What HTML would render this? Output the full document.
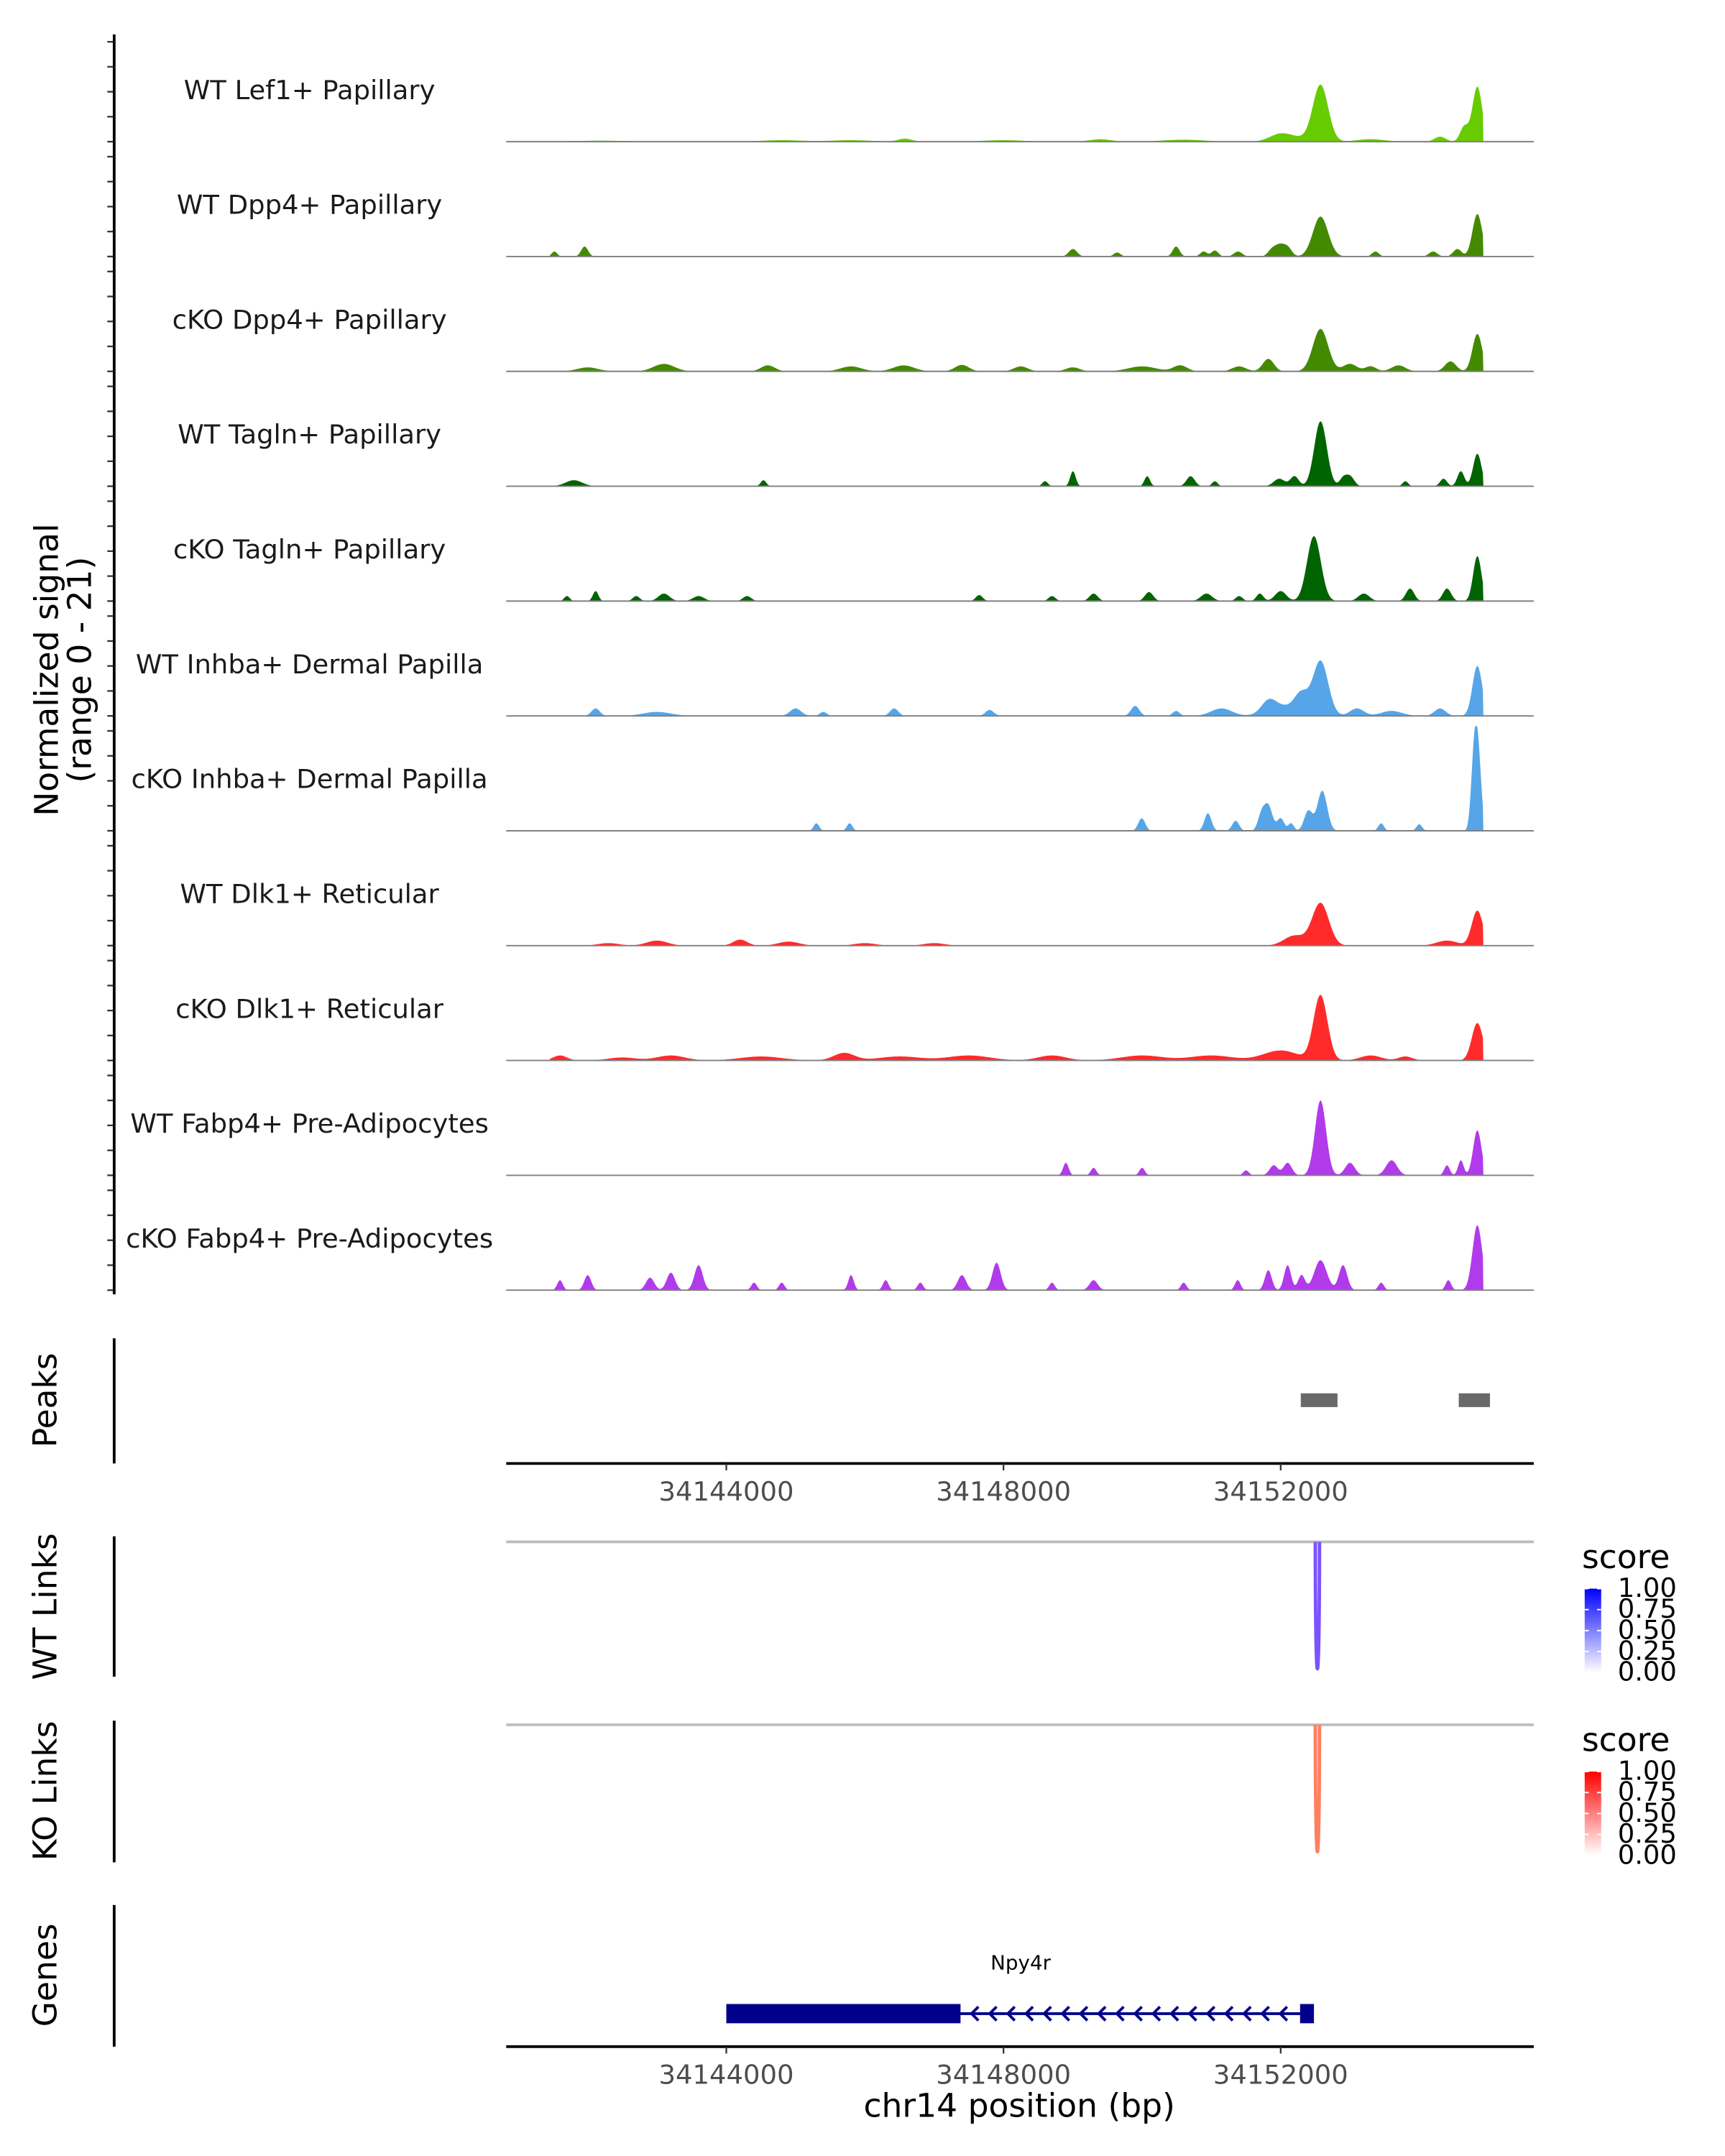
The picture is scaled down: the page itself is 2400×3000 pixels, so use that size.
<!DOCTYPE html>
<html><head><meta charset="utf-8">
<style>
html,body{margin:0;padding:0;background:#fff;}
svg{display:block;}
text{font-family:"DejaVu Sans","Liberation Sans",sans-serif;}
</style></head>
<body>
<svg id="chart" width="2400" height="3000" viewBox="0 0 1254 1567.5" xmlns="http://www.w3.org/2000/svg">
<rect x="0" y="0" width="1254" height="1567.5" fill="#fff"/>
<g id="tracks"></g>
<g id="static"></g>
</svg>
<script>
// ---- data ----
const trackNames = ["WT Lef1+ Papillary","WT Dpp4+ Papillary","cKO Dpp4+ Papillary","WT Tagln+ Papillary","cKO Tagln+ Papillary","WT Inhba+ Dermal Papilla","cKO Inhba+ Dermal Papilla","WT Dlk1+ Reticular","cKO Dlk1+ Reticular","WT Fabp4+ Pre-Adipocytes","cKO Fabp4+ Pre-Adipocytes"];
const trackColors = ["#66CC00","#448A00","#448A00","#006400","#006400","#56A5E8","#56A5E8","#FF2A2A","#FF2A2A","#B13AEB","#B13AEB"];
// peaks per track: [position bp, signal height, width bp]
const peaksLef1 = [[34152575,11.3,110],[34154838,11,70],[34154650,3,60],[34154300,1,80],[34151980,1.2,150],[34152200,0.8,200],[34146580,0.6,100],[34149399,0.5,150],[34150600,0.4,300],[34153300,0.5,200],[34148000,0.3,300],[34144800,0.3,300],[34142200,0.2,400],[34145800,0.3,300]];
const peaksDpp4WT = [[34152575,8,110],[34154838,8.5,70],[34141955,2,50],[34141519,1,40],[34149002,1.5,60],[34150491,2,50],[34151880,1.5,60],[34151990,2,60],[34152100,1.8,60],[34151384,1,60],[34150888,1,50],[34153367,1,50],[34154200,1,60],[34154550,1.5,60],[34151050,1.2,50],[34149640,0.8,50]];
const peaksDpp4KO = [[34152575,8.5,110],[34154838,7.5,70],[34151821,2.5,80],[34154450,2,80],[34143100,1.5,150],[34144600,1.2,100],[34146560,1.2,150],[34147400,1.3,100],[34148250,1,100],[34150000,1,200],[34150550,1.2,100],[34151400,1,100],[34153000,1.5,100],[34153700,1.2,100],[34145800,1,150],[34142000,0.8,150],[34149000,0.8,100],[34153300,1,80]];
const peaksTaglnWT = [[34152575,13,90],[34154838,6.5,60],[34154600,3,50],[34154350,1.5,50],[34141800,1.2,120],[34144536,1.2,40],[34149002,3,40],[34148600,1,40],[34150074,2,40],[34150700,2,60],[34151050,1,40],[34151980,1.5,80],[34152200,2,60],[34153000,2,60],[34153800,1,40],[34152900,1.5,50]];
const peaksTaglnKO = [[34152480,13,100],[34154838,9,60],[34154400,2.5,60],[34142114,2,40],[34141700,1,40],[34143100,1.5,80],[34143600,1,80],[34144300,1,60],[34147650,1.2,50],[34148700,1,50],[34149300,1.5,60],[34150100,1.8,60],[34150930,1.5,80],[34151700,1.5,50],[34152000,2,80],[34153200,1.5,80],[34153867,2.5,60],[34151400,1,50],[34142700,1,50]];
const peaksInhbaWT = [[34152575,11,110],[34154838,10,70],[34152300,4,100],[34151821,2,100],[34153100,1.5,100],[34153600,1,150],[34154300,1.5,80],[34142114,1.5,60],[34145000,1.5,80],[34146422,1.5,60],[34147800,1.2,60],[34149900,2,60],[34150491,1,50],[34151146,1.5,150],[34152000,2,200],[34143000,0.8,200],[34145400,0.8,50]];
const peaksInhbaKO = [[34154838,18,50],[34154780,8,40],[34152600,8,70],[34152400,4,60],[34151821,5,60],[34151720,3,50],[34151350,2,50],[34150950,3.5,50],[34149995,2.5,50],[34152000,2.5,50],[34145300,1.5,40],[34145780,1.5,40],[34153450,1.5,40],[34154000,1.3,40],[34152150,1.5,40]];
const peaksDlk1WT = [[34152575,8.5,120],[34154838,7,80],[34152200,2,150],[34154400,1,150],[34143000,1,150],[34144200,1.2,100],[34144900,0.8,150],[34146000,0.5,150],[34147000,0.5,150],[34142300,0.5,150]];
const peaksDlk1KO = [[34152575,13,100],[34154838,7.5,80],[34152000,2,250],[34153300,1,150],[34141600,1,100],[34143200,1,200],[34145700,1.5,150],[34147500,1,300],[34148700,1,200],[34150000,1,300],[34151000,1,300],[34144500,0.8,300],[34146500,0.8,300],[34142500,0.6,200],[34153800,0.8,100]];
const peaksFabp4WT = [[34152575,15,80],[34154838,9,60],[34154600,3,40],[34154400,2,40],[34152100,2.5,60],[34151900,2,60],[34153600,3,80],[34153000,2.5,70],[34148900,2.5,40],[34149300,1.5,40],[34150000,1.5,40],[34151500,1,40]];
const peaksFabp4KO = [[34154838,13,70],[34152575,6,90],[34152900,5,60],[34152100,5,50],[34151821,4,50],[34151380,2,40],[34142000,3,50],[34143200,3.5,60],[34143600,5,60],[34142900,2.5,60],[34147900,5.5,60],[34147400,3,60],[34145800,3,40],[34146300,2,40],[34144400,1.5,40],[34150600,1.5,40],[34149300,2,60],[34153450,1.5,40],[34154420,2,40],[34146800,1.5,40],[34144800,1.5,40],[34141600,2,40],[34148700,1.5,40],[34152300,3,50]];
const allPeaks = [peaksLef1,peaksDpp4WT,peaksDpp4KO,peaksTaglnWT,peaksTaglnKO,peaksInhbaWT,peaksInhbaKO,peaksDlk1WT,peaksDlk1KO,peaksFabp4WT,peaksFabp4KO];
const xTicks = [34144000,34148000,34152000];
const peakRegions = [[34152290,34152820],[34154570,34155020]];
const linkWT = [34152500,34152560,0.7];
const linkKO = [34152500,34152560,0.65];
const gene = {name:"Npy4r", start:34144000, cdsEnd:34147380, exon2Start:34152280, end:34152480};
const legendTicks = ["1.00","0.75","0.50","0.25","0.00"];

// ---- scales ----
const X0 = 368, X1 = 1115;
const bp0 = 34144000, pxPerBp = 201.5/4000, xRef = 528;
function xs(bp){ return xRef + (bp-bp0)*pxPerBp; }
const dataStart = 34141450, dataEnd = 34154925;
const trackTop0 = 103, trackPitch = 83.5, pxPerUnit = 3.63, yMax = 21;

const NS="http://www.w3.org/2000/svg";
function mk(tag, attrs, parent){ const e=document.createElementNS(NS,tag); for(const k in attrs) e.setAttribute(k,attrs[k]); (parent||document.getElementById('static')).appendChild(e); return e; }

const tracksG = document.getElementById('tracks');
allPeaks.forEach((peaks,i)=>{
  const base = trackTop0 + i*trackPitch;
  const g = mk('g',{},tracksG);
  
  
  let d = 'M'+xs(dataStart).toFixed(2)+','+base;
  for(let px=Math.ceil(xs(dataStart)); px<=xs(dataEnd); px+=0.5){
    const bp = bp0 + (px-xRef)/pxPerBp;
    let v=0;
    peaks.forEach(p=>{ const z=(bp-p[0])/p[2]; v += p[1]*Math.exp(-0.5*z*z); });
    v = Math.min(v,yMax);
    d += ' L'+px.toFixed(2)+','+(base - v*pxPerUnit).toFixed(2);
  }
  d += ' L'+xs(dataEnd).toFixed(2)+','+base+' Z';
  const a = mk('path',{d:d,fill:trackColors[i]},g);
  
  
  const bl = mk('line',{x1:X0,x2:X1,y1:base,y2:base,stroke:'#7f7f7f','stroke-width':1},g);
  
  
  const t = mk('text',{x:225,y:base-31,'font-size':19.3,'text-anchor':'middle',fill:'#1a1a1a'},g);
  t.textContent = trackNames[i];
  
  
  [0,5,10,15,20].forEach(v=>{
    const tk = mk('line',{x1:78,x2:83,y1:base-v*pxPerUnit,y2:base-v*pxPerUnit,stroke:'#333','stroke-width':1.2},g);
    
    
  });
});

// left axis lines
[[25,941],[973,1064],[1117,1219],[1251,1354],[1385,1488]].forEach(r=>{
  const l = mk('line',{x1:83,x2:83,y1:r[0],y2:r[1],stroke:'#000','stroke-width':2});
  
  
});
function vtext(txt,x,y,name,size){
  const t = mk('text',{x:x,y:y,'font-size':size||23.8,'text-anchor':'middle',fill:'#000',transform:'rotate(-90 '+x+' '+y+')'});
  t.textContent=txt;
  
  
  return t;
}
vtext('Normalized signal',42,487,'y-axis-title');
vtext('(range 0 - 21)',66,487,'y-axis-subtitle');
vtext('Peaks',41,1018,'peaks-title');
vtext('WT Links',41,1168,'wt-links-title');
vtext('KO Links',41,1302,'ko-links-title');
vtext('Genes',41,1436,'genes-title');

// peaks
peakRegions.forEach(p=>{
  const r = mk('rect',{x:xs(p[0]),y:1013,width:xs(p[1])-xs(p[0]),height:10,fill:'#696969'});
  
  
});
// x axes
function xAxis(y,name){
  const l = mk('line',{x1:X0,x2:X1,y1:y,y2:y,stroke:'#000','stroke-width':2});
  
  
  xTicks.forEach(v=>{
    const tk = mk('line',{x1:xs(v),x2:xs(v),y1:y,y2:y+5,stroke:'#333','stroke-width':1.2});
    
    
    const t = mk('text',{x:xs(v),y:y+27,'font-size':19.3,'text-anchor':'middle',fill:'#4d4d4d'});
    t.textContent=v;
    
    
  });
}
xAxis(1064,'peaks-x-axis');
xAxis(1488,'genes-x-axis');
const xt = mk('text',{x:741,y:1539,'font-size':23.8,'text-anchor':'middle',fill:'#000'});
xt.textContent='chr14 position (bp)';



// links
const defs = mk('defs',{});
function grad(id,c){
  const lg = mk('linearGradient',{id:id,x1:0,y1:1,x2:0,y2:0},defs);
  mk('stop',{offset:0,'stop-color':'#ffffff'},lg);
  mk('stop',{offset:1,'stop-color':c},lg);
}
grad('gB','#0000FF'); grad('gR','#FF0000');
function links(top,link,col,gid,name){
  const l = mk('line',{x1:X0,x2:X1,y1:top,y2:top,stroke:'#bebebe','stroke-width':2});
  
  
  const a=xs(link[0]), b=xs(link[1]), depth=(top+123);
  const p = mk('path',{d:'M'+a+','+top+' C'+a+','+depth+' '+b+','+depth+' '+b+','+top,fill:'none',stroke:col,'stroke-width':2.5});
  
  
  const ly = top+11;
  const st = mk('text',{x:1150,y:ly+8,'font-size':23.8,fill:'#000'});
  st.textContent='score';
  
  
  const cb = mk('rect',{x:1152,y:ly+23,width:12,height:61,fill:'url(#'+gid+')'});
  
  
  legendTicks.forEach((t,i)=>{
    const yy = ly+23+i*15.25;
    mk('line',{x1:1152,x2:1155,y1:yy,y2:yy,stroke:'#fff','stroke-width':1});
    mk('line',{x1:1161,x2:1164,y1:yy,y2:yy,stroke:'#fff','stroke-width':1});
    const tt = mk('text',{x:1176,y:yy+6,'font-size':19.3,fill:'#000'});
    tt.textContent=t;
    
    
  });
}
links(1121,linkWT,'#7B52FF','gB','wt-links');
links(1254,linkKO,'#FF7F60','gR','ko-links');

// gene
const gy = 1464;
const gl = mk('line',{x1:xs(gene.start),x2:xs(gene.end),y1:gy,y2:gy,stroke:'#00008B','stroke-width':2});


const e1 = mk('rect',{x:xs(gene.start),y:gy-7,width:xs(gene.cdsEnd)-xs(gene.start),height:14,fill:'#00008B'});


const e2 = mk('rect',{x:xs(gene.exon2Start),y:gy-7,width:xs(gene.end)-xs(gene.exon2Start),height:14,fill:'#00008B'});


for(let i=0;i<18;i++){
  const cx = xs(gene.cdsEnd)+10+i*13.2;
  const c = mk('path',{d:'M'+(cx+3)+','+(gy-5)+' L'+(cx-2)+','+gy+' L'+(cx+3)+','+(gy+5),fill:'none',stroke:'#00008B','stroke-width':2});
  
  
}
const gn = mk('text',{x:742,y:1432,'font-size':14.5,'text-anchor':'middle',fill:'#000'});
gn.textContent=gene.name;


</script>
</body></html>
